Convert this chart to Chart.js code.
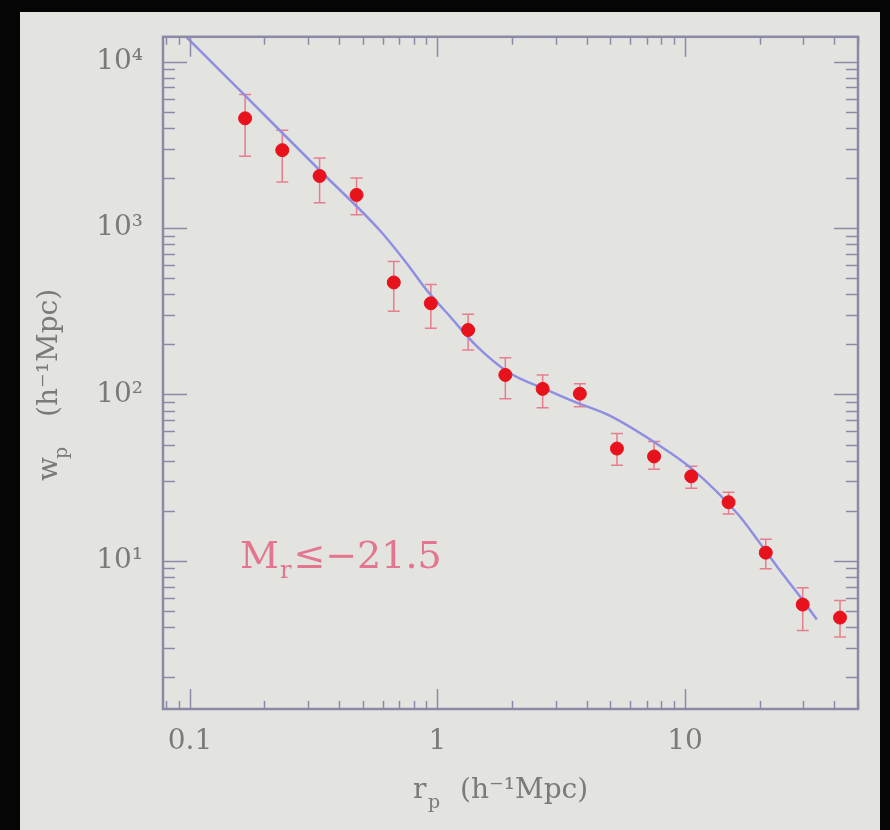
<!DOCTYPE html>
<html>
<head>
<meta charset="utf-8">
<script src="https://cdn.jsdelivr.net/npm/chart.js@4.4.1/dist/chart.umd.min.js"></script>
<style>
  html, body { margin: 0; padding: 0; background: #050505; }
  #wrap { width: 890px; height: 830px; }
</style>
</head>
<body>
<div id="wrap"><canvas id="myChart" width="890" height="830"></canvas></div>
<script>
// projected correlation function, M_r <= -21.5 sample
var rp    = [0.167, 0.236, 0.334, 0.471, 0.666, 0.94, 1.33, 1.88, 2.66, 3.76, 5.31, 7.5, 10.6, 15.0, 21.2, 29.9, 42.3];
var wp    = [4565, 2938, 2055, 1582, 471, 353, 244, 131, 108, 101, 47.3, 42.4, 32.2, 22.5, 11.2, 5.46, 4.56];
var wpHi  = [6350, 3869, 2633, 2000, 629, 458, 303, 166, 131, 116, 58.2, 52.1, 37.0, 25.8, 13.5, 6.90, 5.77];
var wpLo  = [2705, 1892, 1417, 1201, 316, 250, 185, 94.2, 83.2, 84.4, 37.5, 35.5, 27.3, 19.1, 8.96, 3.82, 3.48];

// model curve
var modelR = [0.09, 0.1, 0.164, 0.334, 0.583, 0.749, 0.903, 1.117, 1.436, 1.95, 2.75, 3.63, 4.94, 7.85, 10.7, 16.5, 19.9, 23.9, 28.8, 34.1];
var modelW = [15600, 13360, 6420, 2225, 973, 617, 425, 297, 196, 135, 107, 89.6, 74.8, 49.5, 35.6, 18.8, 13.0, 8.96, 6.25, 4.44];

var xTickValues = [0.1, 1, 10];
var xTickLabels = ['0.1', '1', '10'];
var yTickValues = [10, 100, 1000, 10000];
var yTickLabels = ['10\u00b9', '10\u00b2', '10\u00b3', '10\u2074'];

var axisColor = '#8a8aa6';
var textColor = '#7a7a7a';
var serif = '"DejaVu Serif", "Liberation Serif", serif';

function logTicks(min, max) { // 1..9 x 10^n inside the range
    var out = [];
    for (var d = Math.floor(Math.log10(min)); d <= Math.ceil(Math.log10(max)); d++) {
        for (var k = 1; k <= 9; k++) {
            var v = k * Math.pow(10, d);
            if (v >= min && v <= max) out.push({ v: v, major: k === 1 });
        }
    }
    return out;
}

var panel = {
    id: 'panel',
    beforeDraw: function (chart) {
        var ctx = chart.ctx;
        ctx.save();
        ctx.fillStyle = '#050505';
        ctx.fillRect(0, 0, chart.width, chart.height);
        ctx.fillStyle = '#e3e3e0';
        ctx.fillRect(20, 12, 860, 818);
        ctx.restore();
    },
    beforeDatasetsDraw: function (chart) {
        var ctx = chart.ctx, x = chart.scales.x, y = chart.scales.y;
        ctx.save();
        ctx.strokeStyle = 'rgba(230, 100, 120, 0.8)';
        ctx.lineWidth = 1.5;
        for (var i = 0; i < rp.length; i++) {
            var px = x.getPixelForValue(rp[i]);
            var top = y.getPixelForValue(wpHi[i]);
            var bot = y.getPixelForValue(wpLo[i]);
            ctx.beginPath();
            ctx.moveTo(px, top); ctx.lineTo(px, bot);
            ctx.moveTo(px - 6, top); ctx.lineTo(px + 6, top);
            ctx.moveTo(px - 6, bot); ctx.lineTo(px + 6, bot);
            ctx.stroke();
        }
        ctx.restore();
    },
    afterDraw: function (chart) {
        var ctx = chart.ctx, a = chart.chartArea, x = chart.scales.x, y = chart.scales.y;
        ctx.save();
        ctx.strokeStyle = axisColor;
        ctx.lineWidth = 1.5;
        logTicks(x.min, x.max).forEach(function (t) {
            var px = Math.round(x.getPixelForValue(t.v)) + 0.5;
            var len = t.major ? 20 : 8;
            ctx.beginPath();
            ctx.moveTo(px, a.bottom); ctx.lineTo(px, a.bottom - len);
            ctx.moveTo(px, a.top); ctx.lineTo(px, a.top + len);
            ctx.stroke();
        });
        logTicks(y.min, y.max).forEach(function (t) {
            var py = Math.round(y.getPixelForValue(t.v)) + 0.5;
            var len = t.major ? 24 : 12;
            ctx.beginPath();
            ctx.moveTo(a.left, py); ctx.lineTo(a.left + len, py);
            ctx.moveTo(a.right, py); ctx.lineTo(a.right - len, py);
            ctx.stroke();
        });
        ctx.lineWidth = 2.5;
        ctx.strokeRect(a.left, a.top, a.right - a.left, a.bottom - a.top);

        // axis titles
        ctx.fillStyle = textColor;
        ctx.textBaseline = 'alphabetic';
        ctx.textAlign = 'left';
        ctx.font = '28px ' + serif;
        ctx.fillText('r', 413, 798);
        ctx.font = '19px ' + serif;
        ctx.fillText('p', 428, 808);
        ctx.font = '28px ' + serif;
        ctx.fillText('(h\u207b\u00b9Mpc)', 460, 798);

        ctx.save();
        ctx.translate(57, 481);
        ctx.rotate(-Math.PI / 2);
        ctx.font = '28px ' + serif;
        ctx.fillText('w', 0, 0);
        ctx.font = '19px ' + serif;
        ctx.fillText('p', 22, 10);
        ctx.font = '28px ' + serif;
        ctx.fillText('(h\u207b\u00b9Mpc)', 64, 0);
        ctx.restore();

        // sample label
        ctx.fillStyle = '#e3758e';
        var lx = 240;
        ctx.font = '38px ' + serif;
        ctx.fillText('M', lx, 568);
        lx += ctx.measureText('M').width + 1;
        ctx.font = '24px ' + serif;
        ctx.fillText('r', lx, 578);
        lx += ctx.measureText('r').width + 2;
        ctx.font = '38px ' + serif;
        ctx.fillText('\u2264\u221221.5', lx, 568);
        ctx.restore();
    }
};

new Chart(document.getElementById('myChart'), {
    data: {
        datasets: [{
            type: 'scatter',
            label: 'SDSS',
            data: rp.map(function (r, i) { return { x: r, y: wp[i] }; }),
            backgroundColor: '#e8121c',
            borderColor: '#e8121c',
            pointRadius: 6.5,
            pointHoverRadius: 6.5,
            order: 1
        }, {
            type: 'line',
            label: 'model',
            data: modelR.map(function (r, i) { return { x: r, y: modelW[i] }; }),
            borderColor: '#8f8fe2',
            borderWidth: 2.5,
            pointRadius: 0,
            cubicInterpolationMode: 'monotone',
            fill: false,
            order: 2
        }]
    },
    options: {
        responsive: false,
        devicePixelRatio: 1,
        animation: false,
        layout: { padding: { top: 33, right: 32, left: 0, bottom: 0 } },
        plugins: { legend: { display: false }, tooltip: { enabled: false } },
        scales: {
            x: {
                type: 'logarithmic',
                position: 'bottom',
                min: 0.0778,
                max: 50,
                grid: { display: false, drawTicks: false },
                border: { display: false },
                afterBuildTicks: function (scale) {
                    scale.ticks = xTickValues.map(function (v) { return { value: v }; });
                },
                afterFit: function (scale) { scale.height = 121; },
                ticks: {
                    autoSkip: false,
                    maxRotation: 0,
                    padding: 16,
                    color: textColor,
                    font: { family: serif, size: 28 },
                    callback: function (v) {
                        var i = xTickValues.indexOf(v);
                        return i >= 0 ? xTickLabels[i] : '';
                    }
                }
            },
            y: {
                type: 'logarithmic',
                min: 1.287,
                max: 14105,
                grid: { display: false, drawTicks: false },
                border: { display: false },
                afterBuildTicks: function (scale) {
                    scale.ticks = yTickValues.map(function (v) { return { value: v }; });
                },
                afterFit: function (scale) { scale.width = 163; },
                ticks: {
                    autoSkip: false,
                    padding: 20,
                    color: textColor,
                    font: { family: serif, size: 28 },
                    callback: function (v) {
                        var i = yTickValues.indexOf(v);
                        return i >= 0 ? yTickLabels[i] : '';
                    }
                }
            }
        }
    },
    plugins: [panel]
});
</script>
</body>
</html>
